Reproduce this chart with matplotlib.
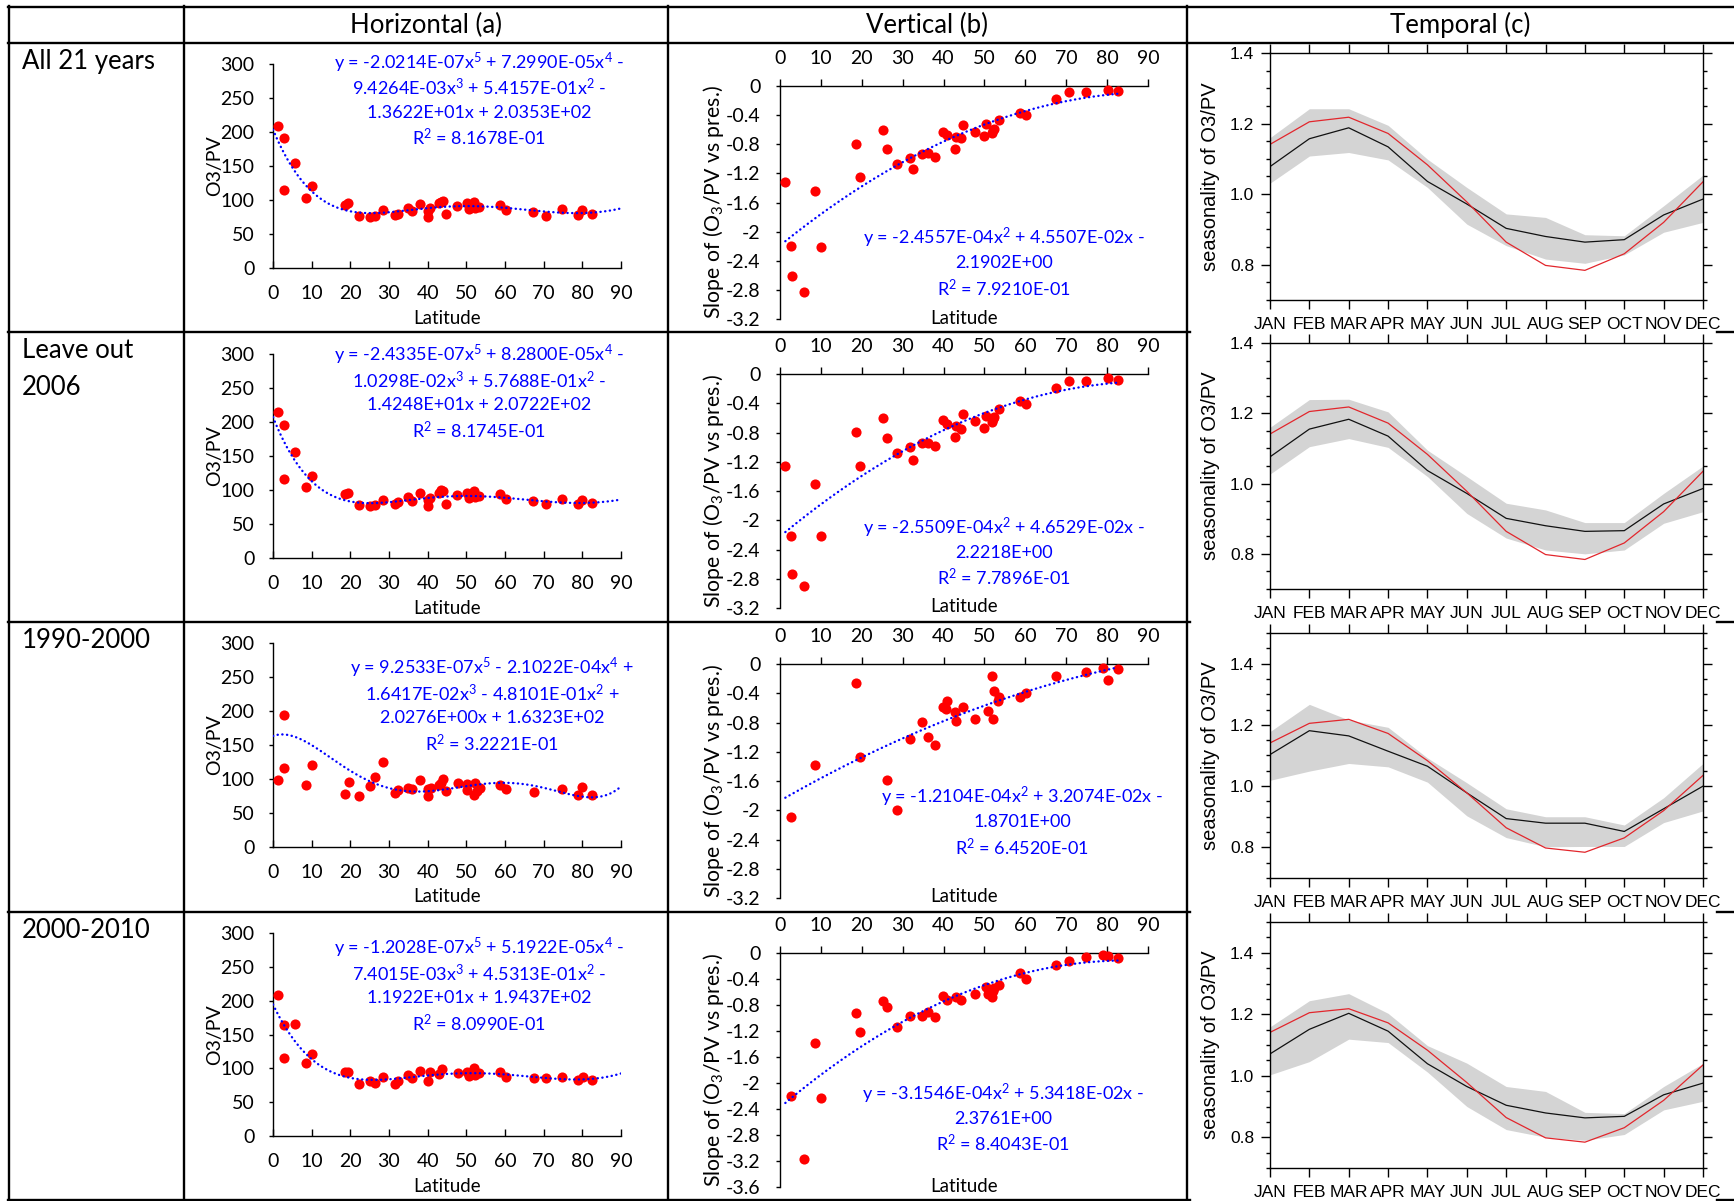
import numpy as np
import matplotlib
matplotlib.use('Agg')
import matplotlib.pyplot as plt
from matplotlib.lines import Line2D
from matplotlib.ticker import MultipleLocator, FuncFormatter

plt.rcParams['font.family'] = ['Lato', 'DejaVu Sans']
plt.rcParams['mathtext.default'] = 'regular'
plt.rcParams['axes.unicode_minus'] = False

W, H = 1734, 1201

headers = ['Horizontal (a)', 'Vertical (b)', 'Temporal (c)']
row_labels = [['All 21 years'], ['Leave out', '2006'], ['1990-2000'], ['2000-2010']]
months = ['JAN', 'FEB', 'MAR', 'APR', 'MAY', 'JUN', 'JUL', 'AUG', 'SEP', 'OCT', 'NOV', 'DEC']

# ---- Horizontal (a): O3/PV vs latitude ----
h_lat = [1.2, 2.9, 2.8, 5.7, 8.5, 10.0, 18.6, 19.5, 22.3, 25.0, 26.3, 28.4, 31.5, 32.4, 34.8, 36.0, 37.9,
         40.1, 40.2, 40.7, 42.9, 43.5, 44.0, 44.7, 47.7, 50.2, 50.8, 51.9, 52.2, 53.3, 58.7, 60.2, 67.3,
         70.5, 74.7, 79.0, 80.0, 82.5]
h_all = [209.5, 191.8, 115.1, 154, 103.3, 120.5, 92.5, 94.9, 76.2, 74.8, 76.7, 84.6, 77.7, 79.7, 87.6,
         83.6, 94, 74.3, 83.1, 87.6, 94.9, 97.4, 98.4, 79.7, 91.5, 94.9, 86.1, 96.9, 87.6, 90, 93, 85.1,
         82.1, 77.2, 86.1, 77.7, 85.1, 79.7]
h_no2006 = [214.5, 194.9, 116.8, 156.1, 104.6, 121.3, 93.8, 95.7, 78.1, 76.6, 78.5, 85.9, 79, 82, 89.8,
            84.4, 95.2, 76.1, 84.9, 88.4, 95.7, 99.7, 98.7, 80, 92.3, 95.7, 88.4, 98.2, 89.8, 90.8, 93.8,
            87.4, 83.5, 79, 87.4, 79, 85.9, 81]
h_lat_90s = [1.2, 2.9, 2.8, 8.5, 10.0, 18.6, 19.6, 22.3, 25.0, 26.3, 28.4, 31.5, 32.4, 34.8, 36.0, 37.9,
             40.1, 40.2, 40.9, 42.9, 43.5, 44.0, 44.7, 47.9, 50.1, 50.2, 52.1, 52.2, 52.7, 53.5, 58.7,
             60.3, 67.4, 74.8, 79.0, 80.0, 82.6]
h_90s = [98.4, 194.3, 116.6, 91.5, 120.5, 77.7, 95.9, 74.8, 90, 102.3, 124.4, 78.7, 83.6, 87.1, 84.6,
         97.9, 75.3, 85.1, 87.1, 91.5, 94.4, 99.9, 81.7, 94, 92.5, 83.6, 76.7, 93.5, 82.6, 86.6, 91,
         84.6, 80.2, 85.1, 76.7, 87.6, 77.2]
h_lat_00s = [1.2, 2.9, 2.8, 5.8, 8.5, 10.0, 18.6, 19.5, 22.3, 25.0, 26.3, 28.4, 31.5, 32.4, 34.8, 36.0,
             37.9, 40.1, 40.7, 42.9, 43.8, 47.8, 50.2, 50.8, 52.1, 52.2, 53.3, 58.8, 60.2, 67.4, 70.5,
             74.8, 79.0, 80.1, 82.6]
h_00s = [209, 163.8, 114.6, 165.3, 107.2, 121, 94.9, 93.9, 76.7, 81.2, 78.7, 87.6, 77.2, 80.7, 90, 85.1,
         95.9, 81.2, 93.9, 91.5, 98.9, 93.5, 94.9, 88.5, 99.9, 90, 93, 93.9, 87.6, 85.6, 85.6, 87.6,
         82.1, 87.6, 82.1]

# trendline coefficients (from the fitted equations)
h_coef = [[-2.0214e-07, 7.2990e-05, -9.4264e-03, 5.4157e-01, -1.3622e+01, 2.0353e+02],
          [-2.4335e-07, 8.2800e-05, -1.0298e-02, 5.7688e-01, -1.4248e+01, 2.0722e+02],
          [9.2533e-07, -2.1022e-04, 1.6417e-02, -4.8101e-01, 2.0276e+00, 1.6323e+02],
          [-1.2028e-07, 5.1922e-05, -7.4015e-03, 4.5313e-01, -1.1922e+01, 1.9437e+02]]
h_eqs = [["y = -2.0214E-07x$^5$ + 7.2990E-05x$^4$ -", "9.4264E-03x$^3$ + 5.4157E-01x$^2$ -",
          "1.3622E+01x + 2.0353E+02", "R$^2$ = 8.1678E-01"],
         ["y = -2.4335E-07x$^5$ + 8.2800E-05x$^4$ -", "1.0298E-02x$^3$ + 5.7688E-01x$^2$ -",
          "1.4248E+01x + 2.0722E+02", "R$^2$ = 8.1745E-01"],
         ["y = 9.2533E-07x$^5$ - 2.1022E-04x$^4$ +", "1.6417E-02x$^3$ - 4.8101E-01x$^2$ +",
          "2.0276E+00x + 1.6323E+02", "R$^2$ = 3.2221E-01"],
         ["y = -1.2028E-07x$^5$ + 5.1922E-05x$^4$ -", "7.4015E-03x$^3$ + 4.5313E-01x$^2$ -",
          "1.1922E+01x + 1.9437E+02", "R$^2$ = 8.0990E-01"]]

# ---- Vertical (b): slope of O3/PV vs pressure ----
v_lat = [1.3, 2.7, 3.0, 5.9, 8.5, 10.0, 18.6, 19.6, 25.1, 26.2, 28.5, 31.7, 32.5, 34.8, 36.1, 37.9, 39.9,
         40.8, 42.8, 43.1, 44.3, 44.8, 47.8, 49.9, 50.3, 51.9, 52.2, 52.4, 53.6, 58.8, 60.1, 67.4, 70.6,
         74.8, 80.1, 82.6]
v_all = [-1.32, -2.195, -2.615, -2.834, -1.438, -2.218, -0.79, -1.246, -0.598, -0.867, -1.068, -0.995,
         -1.136, -0.936, -0.927, -0.972, -0.634, -0.675, -0.863, -0.707, -0.712, -0.539, -0.634, -0.68,
         -0.516, -0.644, -0.598, -0.584, -0.47, -0.365, -0.393, -0.183, -0.087, -0.082, -0.05, -0.068]
v_no2006 = [-1.263, -2.22, -2.735, -2.903, -1.509, -2.22, -0.789, -1.253, -0.606, -0.875, -1.08, -0.998,
            -1.18, -0.943, -0.943, -0.989, -0.634, -0.684, -0.866, -0.716, -0.747, -0.542, -0.643, -0.743,
            -0.57, -0.661, -0.615, -0.588, -0.479, -0.374, -0.406, -0.191, -0.096, -0.096, -0.059, -0.082]
v_lat_90s = [2.7, 8.5, 18.6, 19.6, 26.2, 28.5, 31.7, 34.8, 36.1, 37.9, 39.9, 40.6, 40.8, 42.8, 43.1, 44.8,
             47.8, 50.9, 51.9, 52.2, 52.4, 53.4, 53.6, 58.8, 60.1, 67.4, 74.8, 79.0, 80.1, 82.6]
v_90s = [-2.089, -1.381, -0.265, -1.266, -1.591, -2.002, -1.019, -0.791, -1.001, -1.106, -0.59, -0.617,
         -0.512, -0.663, -0.773, -0.585, -0.754, -0.64, -0.16, -0.754, -0.375, -0.503, -0.453, -0.448,
         -0.398, -0.169, -0.114, -0.055, -0.215, -0.069]
v_lat_00s = [2.7, 5.9, 8.5, 10.0, 18.6, 19.6, 25.1, 26.2, 28.5, 31.7, 34.8, 36.1, 37.9, 39.9, 40.8, 43.1,
             44.3, 47.8, 50.3, 50.9, 51.9, 52.2, 52.4, 53.6, 58.8, 60.1, 67.4, 70.6, 74.8, 79.0, 80.1, 82.6]
v_00s = [-2.2, -3.163, -1.389, -2.227, -0.926, -1.214, -0.736, -0.833, -1.142, -0.962, -0.967, -0.9,
         -0.988, -0.669, -0.73, -0.679, -0.73, -0.628, -0.525, -0.628, -0.679, -0.592, -0.54, -0.489,
         -0.309, -0.396, -0.18, -0.118, -0.067, -0.026, -0.041, -0.072]

v_coef = [[-2.4557e-04, 4.5507e-02, -2.1902],
          [-2.5509e-04, 4.6529e-02, -2.2218],
          [-1.2104e-04, 3.2074e-02, -1.8701],
          [-3.1546e-04, 5.3418e-02, -2.3761]]
v_eqs = [["y = -2.4557E-04x$^2$ + 4.5507E-02x -", "2.1902E+00", "R$^2$ = 7.9210E-01"],
         ["y = -2.5509E-04x$^2$ + 4.6529E-02x -", "2.2218E+00", "R$^2$ = 7.7896E-01"],
         ["y = -1.2104E-04x$^2$ + 3.2074E-02x -", "1.8701E+00", "R$^2$ = 6.4520E-01"],
         ["y = -3.1546E-04x$^2$ + 5.3418E-02x -", "2.3761E+00", "R$^2$ = 8.4043E-01"]]
v_ymin = [-3.2, -3.2, -3.2, -3.6]

# ---- Temporal (c): seasonality of O3/PV ----
t_obs = [1.141, 1.205, 1.218, 1.172, 1.083, 0.978, 0.864, 0.798, 0.784, 0.831, 0.92, 1.035]
t_mean = [[1.078, 1.157, 1.188, 1.134, 1.036, 0.972, 0.903, 0.880, 0.864, 0.871, 0.941, 0.986],
          [1.076, 1.155, 1.183, 1.135, 1.037, 0.972, 0.901, 0.880, 0.864, 0.866, 0.942, 0.986],
          [1.103, 1.181, 1.164, 1.114, 1.065, 0.978, 0.894, 0.879, 0.879, 0.852, 0.926, 1.0],
          [1.071, 1.151, 1.203, 1.145, 1.039, 0.965, 0.904, 0.879, 0.863, 0.868, 0.938, 0.976]]
t_upper = [[1.16, 1.242, 1.242, 1.195, 1.099, 1.019, 0.944, 0.934, 0.885, 0.882, 0.967, 1.054],
           [1.16, 1.239, 1.24, 1.204, 1.095, 1.02, 0.944, 0.925, 0.889, 0.889, 0.972, 1.05],
           [1.178, 1.267, 1.216, 1.192, 1.092, 1.011, 0.926, 0.90, 0.90, 0.873, 0.962, 1.074],
           [1.159, 1.244, 1.267, 1.203, 1.098, 1.041, 0.965, 0.949, 0.881, 0.877, 0.965, 1.04]]
t_lower = [[1.031, 1.108, 1.118, 1.097, 1.019, 0.915, 0.854, 0.816, 0.804, 0.828, 0.892, 0.92],
           [1.027, 1.105, 1.128, 1.103, 1.02, 0.915, 0.845, 0.811, 0.80, 0.811, 0.887, 0.92],
           [1.019, 1.049, 1.074, 1.063, 1.013, 0.903, 0.832, 0.802, 0.803, 0.803, 0.881, 0.919],
           [1.003, 1.046, 1.119, 1.108, 1.012, 0.9, 0.825, 0.80, 0.79, 0.809, 0.889, 0.917]]
t_ymax = [1.4, 1.4, 1.5, 1.5]

h_data = [(h_lat, h_all), (h_lat, h_no2006), (h_lat_90s, h_90s), (h_lat_00s, h_00s)]
v_data = [(v_lat, v_all), (v_lat, v_no2006), (v_lat_90s, v_90s), (v_lat_00s, v_00s)]

# layout in pixels (top-down)
a_rows = [(64, 268), (354, 558), (643, 847), (933, 1136)]
a_eq_x = [479, 479, 492, 479]
a_eq_y = [63, 355, 668, 948]
b_rows = [(86, 319), (374, 608), (664, 898), (953, 1187)]
b_eq_x = [1004, 1004, 1022, 1003]
b_eq_y = [238, 528, 797, 1094]
c_rows = [(53, 300), (343, 589), (633, 878), (922, 1168)]
row_tops = [43, 332, 622, 912]

fig = plt.figure(figsize=(W / 100, H / 100), dpi=100)


def px_box(x0, y0, x1, y1):
    return [x0 / W, 1 - y1 / H, (x1 - x0) / W, (y1 - y0) / H]


def ftext(x, y, s, **kw):
    return fig.text(x / W, 1 - y / H, s, **kw)


def hline(y, x0, x1):
    fig.add_artist(Line2D([x0 / W, x1 / W], [1 - y / H, 1 - y / H], color='black', lw=1.7,
                          transform=fig.transFigure))


def vline(x, y0, y1):
    fig.add_artist(Line2D([x / W, x / W], [1 - y0 / H, 1 - y1 / H], color='black', lw=1.7,
                          transform=fig.transFigure))


# table grid
hline(7, 8, 1734)
hline(43, 8, 1734)
for y in [332, 622, 912, 1200]:
    hline(y, 8, 1190)
    hline(y, 1717, 1734)
for x in [9, 184, 668, 1187]:
    vline(x, 6, 1201)

hdr_x = [426, 927, 1460]
for x, s in zip(hdr_x, headers):
    ftext(x, 25, s, ha='center', va='center', fontsize=18.5)

for top, lines in zip(row_tops, row_labels):
    for k, s in enumerate(lines):
        ftext(22, top + 6 + 37 * k, s, ha='left', va='top', fontsize=18.5)

blue = '#0000ff'
red = '#ff0000'
dots = (0, (0.1, 1.9))

for i in range(4):
    # ---------- Horizontal (a)
    ytop, ybot = a_rows[i]
    ax = fig.add_axes(px_box(273, ytop, 621, ybot))
    ax.set_facecolor('none')
    lat, val = h_data[i]
    ax.plot(lat, val, 'o', color=red, ms=7.3, mec='none', clip_on=False, zorder=3)
    xs = np.linspace(0, 90, 300)
    ax.plot(xs, np.polyval(h_coef[i], xs), color=blue, lw=1.7, ls=dots,
            dash_capstyle='round', zorder=4)
    ax.set_xlim(0, 90)
    ax.set_ylim(0, 300)
    ax.set_xticks(range(0, 91, 10))
    ax.set_yticks(range(0, 301, 50))
    for s in ['top', 'right']:
        ax.spines[s].set_visible(False)
    for s in ['left', 'bottom']:
        ax.spines[s].set_linewidth(1.0)
    ax.tick_params(axis='x', direction='in', length=5, width=1.0, pad=12.5, labelsize=14)
    ax.tick_params(axis='y', direction='out', length=3, width=1.0, pad=10.5, labelsize=14)
    ftext(215, (ytop + ybot) / 2, 'O3/PV', rotation=90, ha='center', va='center', fontsize=14)
    ftext(447, ybot + 50, 'Latitude', ha='center', va='center', fontsize=13.5)
    for k, s in enumerate(h_eqs[i]):
        ftext(a_eq_x[i], a_eq_y[i] + 25 * k, s, ha='center', va='center', fontsize=13, color=blue)

    # ---------- Vertical (b)
    ytop, ybot = b_rows[i]
    ax = fig.add_axes(px_box(780, ytop, 1148, ybot))
    ax.set_facecolor('none')
    lat, val = v_data[i]
    ax.plot(lat, val, 'o', color=red, ms=7.3, mec='none', clip_on=False, zorder=3)
    xs = np.linspace(1.3, 82.6, 300)
    ax.plot(xs, np.polyval(v_coef[i], xs), color=blue, lw=1.7, ls=dots,
            dash_capstyle='round', zorder=4)
    ax.set_xlim(0, 90)
    ax.set_ylim(v_ymin[i], 0)
    ax.xaxis.tick_top()
    ax.set_xticks(range(0, 91, 10))
    ax.set_yticks(np.round(np.arange(0, v_ymin[i] - 0.01, -0.4), 1))
    ax.yaxis.set_major_formatter(FuncFormatter(lambda v, p: '0' if abs(v) < 1e-9 else f'{v:g}'))
    for s in ['bottom', 'right']:
        ax.spines[s].set_visible(False)
    for s in ['left', 'top']:
        ax.spines[s].set_linewidth(1.0)
    ax.tick_params(axis='x', direction='out', length=5, width=1.0, pad=9, labelsize=14)
    ax.tick_params(axis='y', direction='out', length=3, width=1.0, pad=11, labelsize=14)
    ftext(713, (ytop + ybot) / 2, 'Slope of (O$_3$/PV vs pres.)', rotation=90, ha='center',
          va='center', fontsize=15.3)
    ftext(964, ybot - 1, 'Latitude', ha='center', va='center', fontsize=13.5)
    for k, s in enumerate(v_eqs[i]):
        ftext(b_eq_x[i], b_eq_y[i] + 25 * k, s, ha='center', va='center', fontsize=13, color=blue)

    # ---------- Temporal (c)
    ytop, ybot = c_rows[i]
    ax = fig.add_axes(px_box(1270, ytop, 1703, ybot))
    m = np.arange(12)
    ax.fill_between(m, t_lower[i], t_upper[i], color='#d4d4d4', lw=0)
    ax.plot(m, t_mean[i], color='#111111', lw=0.9)
    ax.plot(m, t_obs, color='#e2262c', lw=0.9)
    ax.set_xlim(0, 11)
    ax.set_ylim(0.7, t_ymax[i])
    ax.set_xticks(m)
    ax.set_xticklabels(months)
    ax.set_yticks([0.8, 1.0, 1.2, 1.4])
    ax.yaxis.set_major_formatter(FuncFormatter(lambda v, p: f'{v:.1f}'))
    ax.yaxis.set_minor_locator(MultipleLocator(0.05))
    for s in ax.spines.values():
        s.set_linewidth(1.0)
    ax.tick_params(which='both', direction='out', top=True, right=True, width=1.0)
    ax.tick_params(which='major', length=6.5)
    ax.tick_params(which='minor', length=3)
    ax.tick_params(axis='x', pad=6, labelsize=12.5, labelfontfamily='Liberation Sans')
    ax.tick_params(axis='y', pad=5, labelsize=12.5, labelfontfamily='Liberation Sans')
    ftext(1210, (ytop + ybot) / 2, 'seasonality of O3/PV', rotation=90, ha='center', va='center',
          fontsize=14.5, family='Liberation Sans')

fig.savefig('out.png', dpi=100)
